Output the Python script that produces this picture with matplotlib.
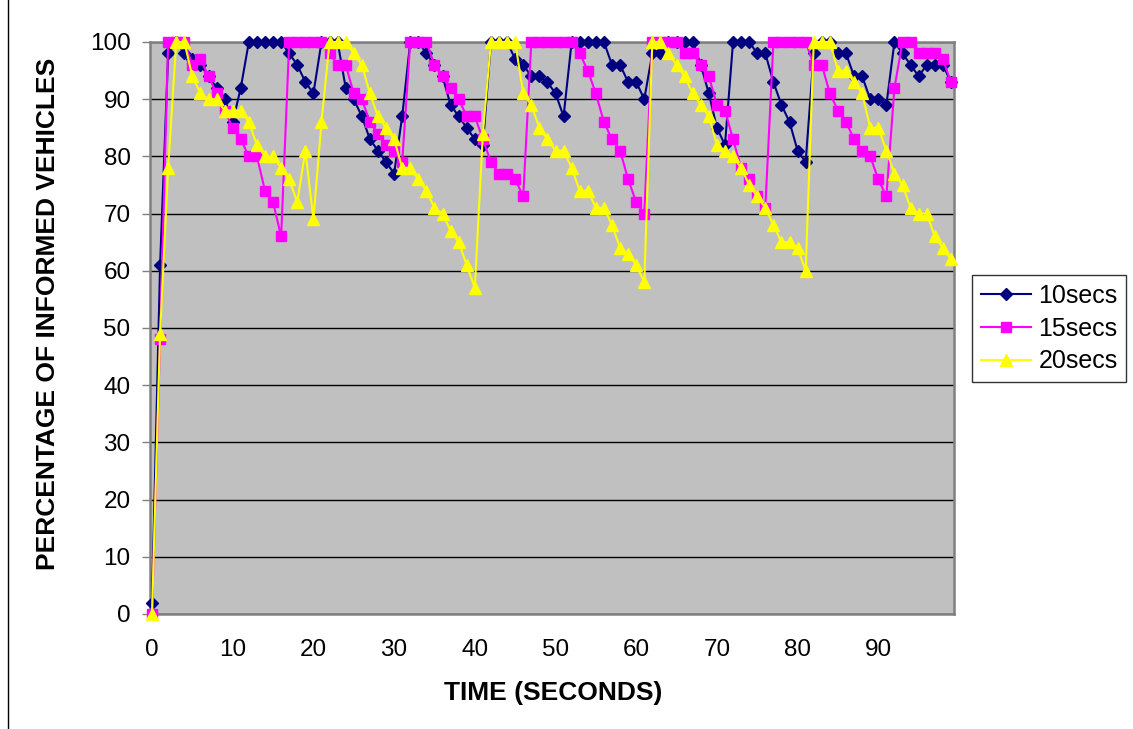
import numpy as np
import matplotlib
matplotlib.use("Agg")
import matplotlib.pyplot as plt
from matplotlib.lines import Line2D

plt.rcParams['font.family'] = ['Liberation Sans', 'DejaVu Sans']

time = list(range(100))
secs10 = [2, 61, 98, 100, 98, 97, 96, 94, 92, 90,
          86, 92, 100, 100, 100, 100, 100, 98, 96, 93,
          91, 100, 100, 100, 92, 90, 87, 83, 81, 79,
          77, 87, 100, 100, 98, 96, 94, 89, 87, 85,
          83, 82, 100, 100, 100, 97, 96, 94, 94, 93,
          91, 87, 100, 100, 100, 100, 100, 96, 96, 93,
          93, 90, 98, 98, 100, 100, 100, 100, 96, 91,
          85, 82, 100, 100, 100, 98, 98, 93, 89, 86,
          81, 79, 98, 100, 100, 98, 98, 94, 94, 90,
          90, 89, 100, 98, 96, 94, 96, 96, 96, 93]
secs15 = [0, 48, 100, 100, 100, 96, 97, 94, 91, 88,
          85, 83, 80, 80, 74, 72, 66, 100, 100, 100,
          100, 100, 98, 96, 96, 91, 90, 86, 84, 82,
          81, 79, 100, 100, 100, 96, 94, 92, 90, 87,
          87, 83, 79, 77, 77, 76, 73, 100, 100, 100,
          100, 100, 100, 98, 95, 91, 86, 83, 81, 76,
          72, 70, 100, 100, 100, 100, 98, 98, 96, 94,
          89, 88, 83, 78, 76, 73, 71, 100, 100, 100,
          100, 100, 96, 96, 91, 88, 86, 83, 81, 80,
          76, 73, 92, 100, 100, 98, 98, 98, 97, 93]
secs20 = [0, 49, 78, 100, 100, 94, 91, 90, 90, 88,
          88, 88, 86, 82, 80, 80, 78, 76, 72, 81,
          69, 86, 100, 100, 100, 98, 96, 91, 87, 85,
          83, 78, 78, 76, 74, 71, 70, 67, 65, 61,
          57, 84, 100, 100, 100, 100, 91, 89, 85, 83,
          81, 81, 78, 74, 74, 71, 71, 68, 64, 63,
          61, 58, 100, 100, 98, 96, 94, 91, 89, 87,
          82, 81, 80, 78, 75, 73, 71, 68, 65, 65,
          64, 60, 100, 100, 100, 95, 95, 93, 91, 85,
          85, 81, 77, 75, 71, 70, 70, 66, 64, 62]
series_names = ['10secs', '15secs', '20secs']
x_ticks = list(range(0, 100, 10))
y_ticks = list(range(0, 101, 10))

W, H = 1133, 729
fig = plt.figure(figsize=(W / 100, H / 100), dpi=100)
fig.patch.set_facecolor('white')
L, R, T, B = 150, 954, 42, 614
ax = fig.add_axes([L / W, 1 - B / H, (R - L) / W, (B - T) / H])
ax.set_facecolor('#C0C0C0')

ax.set_ylim(0, 100)
ax.set_xlim(-0.25, 99.38)
ax.set_yticks(y_ticks)
ax.set_xticks(x_ticks)
ax.yaxis.grid(True, color='black', linewidth=1)
ax.set_axisbelow(True)
for s in ax.spines.values():
    s.set_color('#808080')
    s.set_linewidth(1.8)

ax.tick_params(axis='y', length=6, width=1, color='#808080', pad=8, labelsize=17.5)
ax.tick_params(axis='x', length=0, pad=18, labelsize=17.5)

l1, = ax.plot(time, secs10, color='#000080', marker='D', markersize=6.5,
              linewidth=1.5, clip_on=False, zorder=3, label=series_names[0])
l2, = ax.plot(time, secs15, color='#FF00FF', marker='s', markersize=7,
              linewidth=1.5, clip_on=False, zorder=4, label=series_names[1])
l3, = ax.plot(time, secs20, color='#FFFF00', marker='^', markersize=9,
              linewidth=1.5, clip_on=False, zorder=5, label=series_names[2])

fig.text(553 / W, 1 - 693 / H, 'TIME (SECONDS)', ha='center', va='center',
         fontsize=19, fontweight='bold')
fig.text(48 / W, 1 - 570 / H, 'PERCENTAGE OF INFORMED VEHICLES', ha='center',
         va='bottom', rotation=90, fontsize=19, fontweight='bold')

leg = fig.legend(handles=[l1, l2, l3], loc='upper left',
                 bbox_to_anchor=(972 / W, 1 - 275 / H), borderaxespad=0,
                 fontsize=18, frameon=True, fancybox=False, edgecolor='black',
                 handlelength=2.0, handletextpad=0.3, labelspacing=0.35,
                 borderpad=0.35)
leg.get_frame().set_linewidth(1)

fig.add_artist(Line2D([8 / W, 8 / W], [0, 1], transform=fig.transFigure,
                      color='black', linewidth=1))

fig.savefig('out.png', dpi=100)
